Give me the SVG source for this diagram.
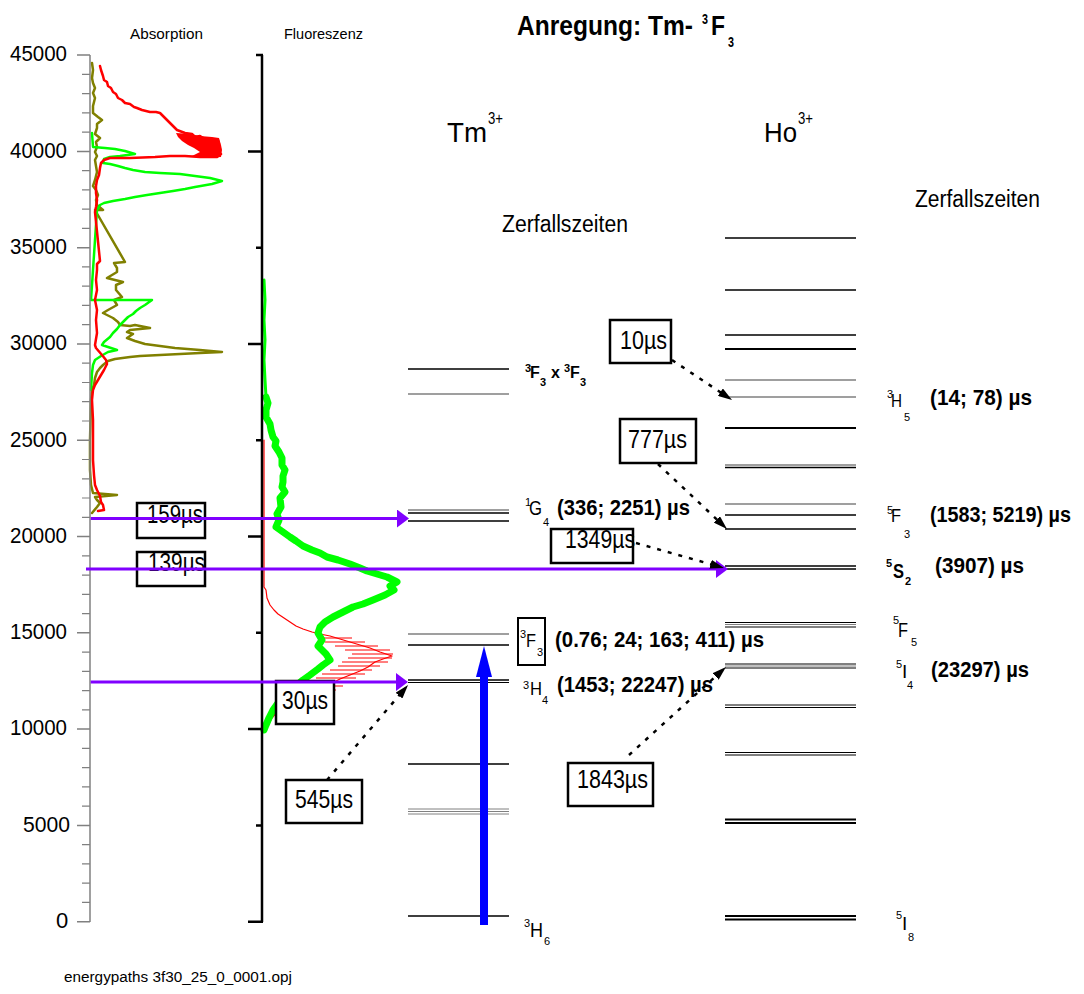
<svg xmlns="http://www.w3.org/2000/svg" width="1084" height="994" viewBox="0 0 1084 994">
<defs>
<style>
text{font-family:"Liberation Sans",Arial,sans-serif;fill:#000}
.b{font-weight:bold}
.ax{font-size:22px}
.s{font-size:11px}
.m{font-size:19px}
.box{fill:#fff;stroke:#000;stroke-width:2.5}
.bt{font-size:25px}
.bl{font-size:22px;font-weight:bold}
.lv{stroke:#000;stroke-width:1.5;fill:none}
.lv2{stroke:#000;stroke-width:2;fill:none}
.lv1{stroke:#000;stroke-width:1;fill:none}
.lg{stroke:#808080;stroke-width:1.5;fill:none}
.lg1{stroke:#808080;stroke-width:1;fill:none}
.pl{stroke:#8000FF;stroke-width:3;marker-end:url(#pa)}
.dl{stroke:#000;stroke-width:2.5;stroke-dasharray:4 7;fill:none;marker-end:url(#da)}
.sp{fill:none;stroke-linejoin:round;stroke-linecap:round}
</style>
<marker id="pa" viewBox="0 0 12 18" refX="6" refY="9" markerWidth="12" markerHeight="18" markerUnits="userSpaceOnUse" orient="auto"><path d="M0,0 L12,9 L0,18 z" fill="#8000FF"/></marker>
<marker id="da" viewBox="0 0 14 9" refX="7" refY="4.5" markerWidth="14" markerHeight="9" markerUnits="userSpaceOnUse" orient="auto"><path d="M0,0 L14,4.5 L0,9 z" fill="#000"/></marker>
</defs>
<rect x="0" y="0" width="1084" height="994" fill="#fff"/>

<g id="spectra">
<polyline class="sp" stroke="#808000" stroke-width="2.5" points="92,63 93,70 92,78 93,83 95,88 93,93 95,98 93,106 93,113 98,117 102,120 97,124 97,128 95,134 100,138 96,142 97,147 95,152 97,156 95,160 96,166 97,172 95,180 93,186 96,190 98,195 96,200 97,205 103,210 95,210 125,262 114,263 117,268 117,272 107,278 123,282 116,285 116,290 122,297 114,300 117,305 108,310 103,313 113,318 118,322 120,325 130,326 135,325 150,328 130,330 127,332 133,334 127,338 135,341 145,344 160,346 175,348 200,350 222,352 200,353 180,354 160,355 140,356 130,357 115,359 108,361 103,365 100,368 97,372 95,378 94,385 92,390 91,400 90,440 90,470 91,485 93,493 117,495 95,497 97,500 100,503 97,507 92,513"/>
<polyline class="sp" stroke="#00FF00" stroke-width="2.5" points="92,133 93,147 105,148 115,149 125,151 135,154 120,156 110,157 104,159 103,163 110,164 118,166 125,168 133,170 145,172 160,173 180,174 195,176 210,178 222,181 212,184 195,187 185,189 173,191 160,193 147,195 135,197 125,199 113,201 104,203 100,205 97,210 91,300 152,300 145,305 140,308 136,311 133,314 128,317 124,321 120,325 117,329 113,333 110,337 104,342 102,345 117,350 108,352 101,356 95,360 93,365 92,373 91,390"/>
<polyline class="sp" stroke="#FF0000" stroke-width="2.5" points="100,66 101,70 103,76 104,80 107,82 108,86 111,88 113,92 116,94 118,98 122,100 125,103 130,104 134,107 137,108 142,110 146,111 150,112 156,112 160,113 177,130 185,133 192,134 195,137 200,136 205,139 212,139 218,140 219,144 216,146 220,149 218,152 221,154 217,157 200,157 185,156 170,156 155,157 130,158 110,158 104,160 101,163 100,168 99,175 97,180 96,186 96,193 97,200 96,207 95,212 100,261 97,264 97,270 96,280 97,290 95,300 97,310 96,320 97,333 95,345 96,348 102,355 106,360 107,364 104,370 101,375 98,380 95,385 93,390 92,400 93,420 93,440 93,460 94,475 95,485 97,490 100,496 101,502 103,505 104,510 98,511"/>
<polygon fill="#FF0000" points="176,133 190,134 200,136 212,137 219,138 221,145 222,150 221,157 205,158 192,156 200,152 194,148 188,145 182,141 178,137"/>
<polyline class="sp" stroke="#FF0000" stroke-width="1.2" points="264,440 264,480 264,520 264,560 264,587 266,590 267,598 270,605 274,610 278,614 284,618 290,622 296,626 303,629 312,632 320,634 330,636 340,639 350,642 360,645 370,648 380,652 392,656 383,659 375,662 368,667 360,671 350,675 340,679 330,684 318,690 305,696 295,700 285,705 277,712 272,718 268,725 266,730"/>
<path stroke="#FF0000" stroke-width="1" fill="none" d="M318,638H352 M325,642H365 M335,646H378 M345,650H390 M352,654H393 M348,658H392 M342,662H388 M338,666H380 M330,670H372 M322,674H365 M316,678H356 M310,682H350 M305,686H343 M300,690H336"/>
<polyline class="sp" stroke="#00FF00" stroke-width="3" points="264,280 265,300 264,320 265,340 264,360 265,380 266,397"/>
<polyline class="sp" stroke="#00FF00" stroke-width="7" points="266,397 268,403 266,410 266,417 270,424 271,430 273,437 276,441 275,446 279,452 282,458 282,465 285,470 283,476 283,482 282,487 285,492 280,498 281,507 277,514 279,520 276,527 283,532 290,537 296,541 303,546 312,550 320,553 327,557 338,560 350,564 360,568 367,571 377,574 387,577 397,582 390,586 394,590 385,595 373,600 363,604 353,607 343,612 333,617 325,622 320,627 318,633 322,640 318,646 326,654 330,660 323,665 318,669 310,675 303,680 297,685 290,691 283,697 278,703 273,710 269,718 266,725 264,730"/>
</g>

<g id="axes">
<line x1="90" y1="55" x2="90" y2="922" stroke="#808080" stroke-width="1.5"/>
<path stroke="#808080" stroke-width="1.5" fill="none" d="M77,55.1H90 M77,151.4H90 M77,247.7H90 M77,344H90 M77,440.3H90 M77,536.5H90 M77,632.8H90 M77,729.1H90 M77,825.4H90 M77,921.7H90"/>
<path stroke="#808080" stroke-width="1.2" fill="none" d="M82,902.4H90 M82,883.2H90 M82,863.9H90 M82,844.7H90 M82,806.2H90 M82,786.9H90 M82,767.6H90 M82,748.4H90 M82,709.9H90 M82,690.6H90 M82,671.3H90 M82,652.1H90 M82,613.6H90 M82,594.3H90 M82,575.1H90 M82,555.8H90 M82,517.3H90 M82,498H90 M82,478.8H90 M82,459.5H90 M82,421H90 M82,401.7H90 M82,382.5H90 M82,363.2H90 M82,324.7H90 M82,305.4H90 M82,286.2H90 M82,266.9H90 M82,228.4H90 M82,209.2H90 M82,189.9H90 M82,170.6H90 M82,132.1H90 M82,112.9H90 M82,93.6H90 M82,74.4H90"/>
<line x1="262" y1="55" x2="262" y2="922" stroke="#000" stroke-width="2.5"/>
<path stroke="#000" stroke-width="2.5" fill="none" d="M256,55.1H263 M248,151.4H263 M256,247.7H263 M248,344H263 M256,440.3H263 M248,536.5H263 M256,632.8H263 M248,729.1H263 M256,825.4H263 M248,921.7H263"/>
<text class="ax" x="10" y="61" textLength="57" lengthAdjust="spacingAndGlyphs">45000</text>
<text class="ax" x="10" y="157.5" textLength="57" lengthAdjust="spacingAndGlyphs">40000</text>
<text class="ax" x="10" y="254" textLength="57" lengthAdjust="spacingAndGlyphs">35000</text>
<text class="ax" x="10" y="350" textLength="57" lengthAdjust="spacingAndGlyphs">30000</text>
<text class="ax" x="10" y="446.5" textLength="57" lengthAdjust="spacingAndGlyphs">25000</text>
<text class="ax" x="10" y="542.5" textLength="57" lengthAdjust="spacingAndGlyphs">20000</text>
<text class="ax" x="10" y="639" textLength="57" lengthAdjust="spacingAndGlyphs">15000</text>
<text class="ax" x="10" y="735" textLength="57" lengthAdjust="spacingAndGlyphs">10000</text>
<text class="ax" x="23" y="831.5" textLength="47" lengthAdjust="spacingAndGlyphs">5000</text>
<text class="ax" x="56" y="927.5">0</text>
<text x="130" y="39" font-size="14" textLength="73" lengthAdjust="spacingAndGlyphs">Absorption</text>
<text x="284" y="39" font-size="14" textLength="79" lengthAdjust="spacingAndGlyphs">Fluoreszenz</text>
</g>

<g id="title">
<text class="b" x="517" y="35" font-size="27" textLength="176" lengthAdjust="spacingAndGlyphs">Anregung: Tm-</text>
<text class="b" x="702" y="24" font-size="14" textLength="6" lengthAdjust="spacingAndGlyphs">3</text>
<text class="b" x="711" y="35" font-size="27" textLength="14" lengthAdjust="spacingAndGlyphs">F</text>
<text class="b" x="728" y="47" font-size="14" textLength="6" lengthAdjust="spacingAndGlyphs">3</text>
</g>

<g id="tm-header">
<text x="447" y="142" font-size="28" textLength="40" lengthAdjust="spacingAndGlyphs">Tm</text>
<text x="488" y="124" font-size="16" textLength="15" lengthAdjust="spacingAndGlyphs">3+</text>
<text x="502" y="232" font-size="23" textLength="126" lengthAdjust="spacingAndGlyphs">Zerfallszeiten</text>
</g>
<g id="ho-header">
<text x="764" y="142" font-size="28" textLength="33" lengthAdjust="spacingAndGlyphs">Ho</text>
<text x="798" y="124" font-size="16" textLength="15" lengthAdjust="spacingAndGlyphs">3+</text>
<text x="915" y="207" font-size="23" textLength="125" lengthAdjust="spacingAndGlyphs">Zerfallszeiten</text>
</g>

<g id="tm-levels">
<path class="lv" d="M408,369H509 M408,513H509 M408,521H509 M408,645H509 M408,680H509 M408,764H509 M408,916H509"/>
<path class="lv1" d="M408,682.5H509"/>
<path class="lg" d="M408,394H509 M408,510H509 M408,634H509"/>
<path class="lg1" d="M408,809H509 M408,811.5H509 M408,814H509"/>
</g>

<g id="ho-levels">
<path class="lv" d="M725,238H856 M725,290H856 M725,335H856 M725,467.5H856 M725,515H856 M725,529H856 M725,566H856 M725,569H856"/>
<path class="lv2" d="M725,349H856 M725,428H856 M725,819.5H856 M725,823H856 M725,916H856 M725,919.5H856"/>
<path class="lv1" d="M725,622.5H856 M725,627H856 M725,664H856 M725,668H856 M725,705H856 M725,707.5H856 M725,752.5H856 M725,755H856"/>
<path class="lg" d="M725,380H856 M725,397H856 M725,465H856 M725,504H856"/>
<path class="lg1" d="M725,624.5H856 M725,666H856"/>
</g>

<g id="tm-3F3x3F3">
<text class="s b" x="525" y="372">3</text>
<text class="b" x="530" y="378" font-size="16">F</text>
<text class="s b" x="540" y="386">3</text>
<text class="b" x="551" y="378" font-size="16">x</text>
<text class="s b" x="564" y="372">3</text>
<text class="b" x="570" y="378" font-size="16">F</text>
<text class="s b" x="580" y="386">3</text>
</g>
<g id="tm-1G4">
<text class="s" x="525" y="506">1</text>
<text x="529" y="515" font-size="21" textLength="13" lengthAdjust="spacingAndGlyphs">G</text>
<text class="s" x="543" y="526">4</text>
<text class="bl" x="557" y="515" textLength="133" lengthAdjust="spacingAndGlyphs">(336; 2251) µs</text>
</g>
<g id="tm-3F3">
<rect x="518" y="618" width="27" height="47" fill="none" stroke="#000" stroke-width="2"/>
<text class="s" x="520" y="638">3</text>
<text class="m" x="526" y="647" textLength="10" lengthAdjust="spacingAndGlyphs">F</text>
<text class="s" x="537" y="656">3</text>
<text class="bl" x="555" y="647" textLength="209" lengthAdjust="spacingAndGlyphs">(0.76; 24; 163; 411) µs</text>
</g>
<g id="tm-3H4">
<text class="s" x="523" y="689">3</text>
<text class="m" x="530" y="695" textLength="12" lengthAdjust="spacingAndGlyphs">H</text>
<text class="s" x="542" y="704">4</text>
<text class="bl" x="557" y="692" textLength="156" lengthAdjust="spacingAndGlyphs">(1453; 22247) µs</text>
</g>
<g id="tm-3H6">
<text class="s" x="524" y="927">3</text>
<text x="530" y="937" font-size="21" textLength="13" lengthAdjust="spacingAndGlyphs">H</text>
<text class="s" x="544" y="945">6</text>
</g>

<g id="ho-3H5">
<text class="s" x="887" y="398">3</text>
<text class="m" x="891" y="407" textLength="11" lengthAdjust="spacingAndGlyphs">H</text>
<text class="s" x="904" y="421">5</text>
<text class="bl" x="930" y="405" textLength="102" lengthAdjust="spacingAndGlyphs">(14; 78) µs</text>
</g>
<g id="ho-5F3">
<text class="s" x="887" y="514">5</text>
<text class="m" x="891" y="522" textLength="10" lengthAdjust="spacingAndGlyphs">F</text>
<text class="s" x="904" y="538">3</text>
<text class="bl" x="930" y="522" textLength="141" lengthAdjust="spacingAndGlyphs">(1583; 5219) µs</text>
</g>
<g id="ho-5S2">
<text class="s b" x="886" y="567">5</text>
<text class="b" x="893" y="578" font-size="20" textLength="11" lengthAdjust="spacingAndGlyphs">S</text>
<text class="s b" x="905" y="585">2</text>
<text class="bl" x="935" y="573" textLength="89" lengthAdjust="spacingAndGlyphs">(3907) µs</text>
</g>
<g id="ho-5F5">
<text class="s" x="893" y="624">5</text>
<text x="898" y="637" font-size="20" textLength="10" lengthAdjust="spacingAndGlyphs">F</text>
<text class="s" x="911" y="646">5</text>
</g>
<g id="ho-5I4">
<text class="s" x="896" y="668">5</text>
<text class="m" x="902" y="678">I</text>
<text class="s" x="907" y="689">4</text>
<text class="bl" x="931" y="677" textLength="98" lengthAdjust="spacingAndGlyphs">(23297) µs</text>
</g>
<g id="ho-5I8">
<text class="s" x="896" y="919">5</text>
<text class="m" x="902" y="930">I</text>
<text class="s" x="908" y="941">8</text>
</g>

<g id="box-159"><rect class="box" x="137" y="503" width="68" height="35"/><text class="bt" x="147" y="523" textLength="56" lengthAdjust="spacingAndGlyphs">159µs</text></g>
<g id="box-139"><rect class="box" x="137" y="552" width="68" height="34"/><text class="bt" x="148" y="571" textLength="57" lengthAdjust="spacingAndGlyphs">139µs</text></g>
<g id="box-30"><rect class="box" x="276" y="681" width="58" height="43"/><text class="bt" x="282" y="709" textLength="46" lengthAdjust="spacingAndGlyphs">30µs</text></g>
<g id="box-545"><rect class="box" x="286" y="780" width="76" height="43"/><text class="bt" x="295" y="808" textLength="58" lengthAdjust="spacingAndGlyphs">545µs</text></g>
<g id="box-10"><rect class="box" x="610" y="320" width="61" height="43"/><text class="bt" x="620" y="349" textLength="47" lengthAdjust="spacingAndGlyphs">10µs</text></g>
<g id="box-777"><rect class="box" x="620" y="419" width="76" height="44"/><text class="bt" x="628" y="448" textLength="59" lengthAdjust="spacingAndGlyphs">777µs</text></g>
<g id="box-1349"><rect class="box" x="551" y="529" width="82" height="34"/><text class="bt" x="565" y="548" textLength="70" lengthAdjust="spacingAndGlyphs">1349µs</text></g>
<g id="box-1843"><rect class="box" x="568" y="763" width="85" height="43"/><text class="bt" x="577" y="788" textLength="71" lengthAdjust="spacingAndGlyphs">1843µs</text></g>

<g id="connectors">
<line class="pl" x1="90.7" y1="518.5" x2="403" y2="518.5"/>
<line class="pl" x1="86" y1="569" x2="722" y2="569"/>
<line class="pl" x1="90.7" y1="682" x2="402" y2="682"/>
<path class="dl" d="M672,360 L726.2,396.1"/>
<path class="dl" d="M658,464 L721.9,524.2"/>
<path class="dl" d="M636,543 L717.3,566.1"/>
<path class="dl" d="M327,780 L403.5,690.3"/>
<path class="dl" d="M629,755 L720.8,671.7"/>
<rect x="480" y="677" width="8" height="248" fill="#0000FF"/>
<polygon points="476,677 484,646 492,677" fill="#0000FF"/>
</g>

<text x="64" y="982" font-size="14" textLength="228" lengthAdjust="spacingAndGlyphs">energypaths 3f30_25_0_0001.opj</text>
</svg>
